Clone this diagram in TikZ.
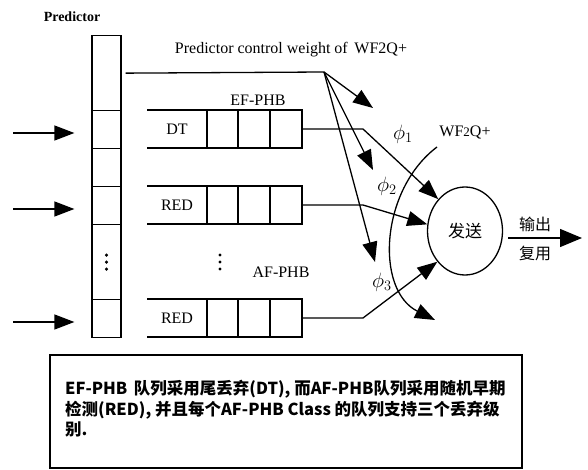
\documentclass[tikz,border=0pt]{standalone}
\usepackage{fontspec}
\setmainfont{Liberation Serif}
\newfontfamily\cjk{Noto Sans CJK SC}
\usetikzlibrary{arrows.meta,shapes.geometric}

\begin{document}
\begin{tikzpicture}[x=1pt, y=-1pt,
  wfqline/.style = {line width=1.3pt},
  wfqarrow/.style = {line width=1.3pt, -{Triangle[length=20pt,width=15pt]}},
  wfqcell/.style = {draw, line width=1.3pt, minimum width=29pt, inner sep=0pt, anchor=north},
  wfqlbl/.style = {font=\fontsize{16}{18}\selectfont, inner sep=0pt},
  wfqphi/.style = {font=\fontsize{20}{22}\selectfont, inner sep=0pt},
  wfqcjk/.style = {font=\cjk\fontsize{16}{18}\selectfont, inner sep=0pt}
]
  \useasboundingbox (0,0) rectangle (588,470);
  % predictor column
  \node[wfqlbl, font=\bfseries\fontsize{14}{16}\selectfont] (predlbl) at (72,17) {Predictor};
  \node[wfqcell, minimum height=75pt] (p0) at (106.5,35) {};
  \node[wfqcell, minimum height=38pt] (p1) at (106.5,110) {};
  \node[wfqcell, minimum height=38pt] (p2) at (106.5,148) {};
  \node[wfqcell, minimum height=38pt] (p3) at (106.5,186) {};
  \node[wfqcell, minimum height=75pt] (p4) at (106.5,224) {};
  \node[wfqcell, minimum height=38pt] (p5) at (106.5,299) {};
  \foreach \d in {-7,0,7} {
    \fill ([yshift=\d pt]p4.center) circle (1.7pt);
    \fill (220,262+\d) circle (1.7pt);
  }
  % input arrows
  \coordinate (in1) at (13,133);
  \coordinate (in2) at (13,209);
  \coordinate (in3) at (13,322);
  \draw[wfqarrow, shorten >=17pt] (in1) -- (in1 -| p1.west);
  \draw[wfqarrow, shorten >=17pt] (in2) -- (in2 -| p3.west);
  \draw[wfqarrow, shorten >=17pt] (in3) -- (in3 -| p5.west);
  % queues
  \foreach \q/\y in {q1/129, q2/205, q3/318} {
    \draw[wfqline] (147,\y-19) -- (302,\y-19) -- (302,\y+19) -- (147,\y+19);
    \foreach \x in {207,238,270}
      \draw[wfqline] (\x,\y-19) -- (\x,\y+19);
    \coordinate (\q-end) at (302,\y);
    \coordinate (\q-bend) at (363,\y);
  }
  \node[wfqlbl] (q1) at (177,129) {DT};
  \node[wfqlbl] (q2) at (177,205) {RED};
  \node[wfqlbl] (q3) at (177,318) {RED};
  \node[wfqlbl] (eflbl) at (258,100) {EF-PHB};
  \node[wfqlbl] (aflbl) at (281,272) {AF-PHB};
  % scheduler
  \node[draw, ellipse, line width=1.3pt, minimum width=75pt, minimum height=88pt,
    wfqcjk, font=\cjk\fontsize{17}{19}\selectfont] (tx) at (465,231) {发送};
  \draw[wfqarrow] (q1-end) -- (q1-bend) -- (tx.130);
  \draw[wfqarrow] (q2-end) -- (q2-bend) -- (tx.170);
  \draw[wfqarrow] (q3-end) -- (q3-bend) -- (tx.228);
  % predictor weights
  \node[wfqlbl] (ctllbl) at (291,50) {Predictor control weight of\, WF2Q+};
  \coordinate (fan) at (324,72);
  \coordinate (w1) at (373,108);
  \coordinate (w2) at (373,170);
  \coordinate (w3) at (375,262);
  \draw[wfqline] ([xshift=4pt]p0.east) -- (fan);
  \draw[wfqarrow] (fan) -- (w1);
  \draw[wfqarrow] (fan) -- (w2);
  \draw[wfqarrow] (fan) -- (w3);
  \node[wfqphi] (phi1) at (403,134) {$\phi_1$};
  \node[wfqphi] (phi2) at (387,186) {$\phi_2$};
  \node[wfqphi] (phi3) at (382,282) {$\phi_3$};
  % WF2Q+ arc
  \coordinate (arcs) at (437,147);
  \coordinate (arce) at (435,320);
  \draw[wfqarrow] (arcs) .. controls (380,190) and (375,290) .. (arce);
  \node[wfqlbl] (wfqlbl) at (465,133) {WF{\fontsize{13}{15}\selectfont 2}Q+};
  % output
  \coordinate (out) at (582,238);
  \draw[wfqarrow, -{Triangle[length=22pt,width=18pt]}, shorten <=5pt] (tx.east |- out) -- (out);
  \node[wfqcjk] (outlbl) at (535,224) {输出};
  \node[wfqcjk] (muxlbl) at (535,253) {复用};
  % note box
  \draw[line width=1.3pt] (50,355) rectangle (522,468);
  \node[wfqcjk, font=\cjk\bfseries\fontsize{16.5}{20.5}\selectfont, anchor=north west, align=left]
    (note) at (65,380) {EF-PHB\, 队列采用尾丢弃(DT), 而AF-PHB队列采用随机早期\\检测(RED), 并且每个AF-PHB Class 的队列支持三个丢弃级\\别.};
\end{tikzpicture}
\end{document}
